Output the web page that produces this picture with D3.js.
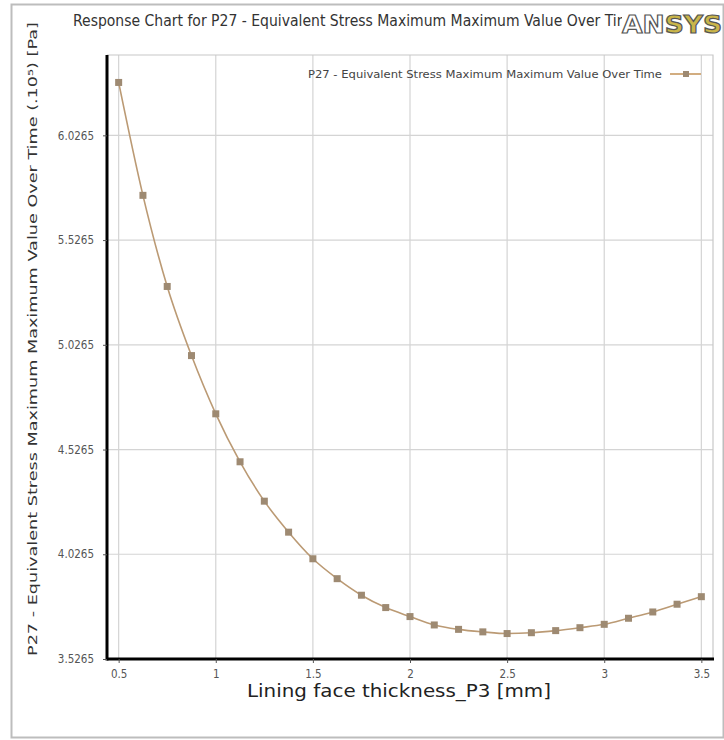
<!DOCTYPE html>
<html>
<head>
<meta charset="utf-8">
<script src="https://cdn.jsdelivr.net/npm/d3@7/dist/d3.min.js"></script>
<style>
  body { margin: 0; background: #fff; }
  svg { display: block; }
</style>
</head>
<body>
<script>
// thickness values (mm) and response (x10^5 Pa)
const thickness = [0.5, 0.625, 0.75, 0.875, 1.0, 1.125, 1.25, 1.375, 1.5, 1.625, 1.75, 1.875,
                   2.0, 2.125, 2.25, 2.375, 2.5, 2.625, 2.75, 2.875, 3.0, 3.125, 3.25, 3.375, 3.5]
const stress = [6.279, 5.740, 5.305, 4.975, 4.697, 4.468, 4.280, 4.132, 4.005, 3.910, 3.831, 3.772,
                3.729, 3.689, 3.668, 3.656, 3.648, 3.652, 3.662, 3.676, 3.692, 3.721, 3.751, 3.788, 3.824]
const xTicks = [0.5, 1, 1.5, 2, 2.5, 3, 3.5]
const yTicks = [3.5265, 4.0265, 4.5265, 5.0265, 5.5265, 6.0265]

const chartTitle = "Response Chart for P27 - Equivalent Stress Maximum Maximum Value Over Time"
const seriesName = "P27 - Equivalent Stress Maximum Maximum Value Over Time"
const yTitle = "P27 - Equivalent Stress Maximum Maximum Value Over Time  (.10\u2075)  [Pa]"
const xTitle = "Lining face thickness_P3 [mm]"

const width = 724, height = 740
const plot = {left: 107, right: 713, top: 55, bottom: 659}

const svg = d3.select("body").append("svg")
    .attr("width", width)
    .attr("height", height)

// outer panel frame
svg.append("rect")
    .attr("x", 11.5).attr("y", 4.5)
    .attr("width", 712).attr("height", 733)
    .attr("fill", "#fff")
    .attr("stroke", "#bdbdbd")
    .attr("stroke-width", 2)

const x = d3.scaleLinear().domain([0.44, 3.56]).range([plot.left, plot.right])
const y = d3.scaleLinear().domain([3.5265, 6.41]).range([plot.bottom, plot.top])

// grid
const grid = svg.append("g").attr("stroke", "#d4d4d4").attr("stroke-width", 1.2)
grid.selectAll("line.v").data(xTicks).join("line")
    .attr("x1", d => x(d)).attr("x2", d => x(d))
    .attr("y1", plot.top).attr("y2", plot.bottom)
grid.selectAll("line.h").data(yTicks).join("line")
    .attr("x1", plot.left).attr("x2", plot.right)
    .attr("y1", d => y(d)).attr("y2", d => y(d))

// top / right frame
svg.append("path")
    .attr("d", `M${plot.left},${plot.top}H${plot.right}V${plot.bottom}`)
    .attr("fill", "none").attr("stroke", "#c8c8c8").attr("stroke-width", 1.2)

// axes
const xAxis = svg.append("g")
    .attr("transform", `translate(0,${plot.bottom})`)
    .call(d3.axisBottom(x).tickValues(xTicks).tickSize(4).tickPadding(7).tickFormat(d3.format("~g")))
const yAxis = svg.append("g")
    .attr("transform", `translate(${plot.left},0)`)
    .call(d3.axisLeft(y).tickValues(yTicks).tickSize(4).tickPadding(9).tickFormat(d3.format(".4f")))

for (const ax of [xAxis, yAxis]) {
    ax.select(".domain").attr("stroke", "#000").attr("stroke-width", 3)
    ax.selectAll(".tick line").attr("stroke", "#555")
    ax.selectAll(".tick text")
        .attr("fill", "#555")
        .style("font-family", "'DejaVu Sans Condensed', 'DejaVu Sans', sans-serif")
        .style("font-size", "11.5px")
}
xAxis.select(".domain").attr("d", `M${plot.left},0H${plot.right + 1}`)
yAxis.select(".domain").attr("d", `M0,${plot.top}V${plot.bottom + 1.5}`)

// series
const pts = thickness.map((t, i) => [t, stress[i]])
svg.append("path")
    .datum(pts)
    .attr("fill", "none")
    .attr("stroke", "#bb9a74")
    .attr("stroke-width", 1.6)
    .attr("d", d3.line().x(d => x(d[0])).y(d => y(d[1])).curve(d3.curveMonotoneX))

svg.append("g").selectAll("rect").data(pts).join("rect")
    .attr("x", d => x(d[0]) - 3.5)
    .attr("y", d => y(d[1]) - 3.5)
    .attr("width", 7).attr("height", 7)
    .attr("fill", "#9e8a72")

// legend
svg.append("text")
    .attr("x", 662).attr("y", 78)
    .attr("text-anchor", "end")
    .attr("textLength", 354)
    .attr("lengthAdjust", "spacingAndGlyphs")
    .attr("fill", "#444")
    .style("font-family", "'DejaVu Sans Condensed', sans-serif")
    .style("font-size", "11px")
    .text(seriesName)
svg.append("line")
    .attr("x1", 670).attr("x2", 701).attr("y1", 74).attr("y2", 74)
    .attr("stroke", "#d2ad80").attr("stroke-width", 2)
svg.append("rect")
    .attr("x", 683).attr("y", 71).attr("width", 6).attr("height", 6)
    .attr("fill", "#9e8a72")

// title, cut off by the logo
svg.append("clipPath").attr("id", "titleClip")
    .append("rect").attr("x", 0).attr("y", 0).attr("width", 622).attr("height", 50)
svg.append("text")
    .attr("clip-path", "url(#titleClip)")
    .attr("x", 73).attr("y", 26)
    .attr("textLength", 566)
    .attr("lengthAdjust", "spacingAndGlyphs")
    .attr("fill", "#333")
    .style("font-family", "'DejaVu Sans Condensed', sans-serif")
    .style("font-size", "15px")
    .text(chartTitle)

// ANSYS logo
const logo = svg.append("text")
    .attr("x", 622).attr("y", 33)
    .style("font-family", "'DejaVu Sans', sans-serif")
    .style("font-size", "25px")
    .style("font-weight", "bold")
    .attr("stroke", "#555")
    .attr("stroke-width", 1.2)
    .attr("textLength", 100)
    .attr("lengthAdjust", "spacingAndGlyphs")
logo.append("tspan").attr("fill", "#fff").text("AN")
logo.append("tspan").attr("fill", "#c9b54a").text("SYS")

// axis titles
svg.append("text")
    .attr("transform", "translate(37,656) rotate(-90)")
    .attr("textLength", 634)
    .attr("lengthAdjust", "spacingAndGlyphs")
    .attr("fill", "#333")
    .style("font-family", "'DejaVu Sans', sans-serif")
    .style("font-size", "12px")
    .text(yTitle)

svg.append("text")
    .attr("x", 399).attr("y", 697)
    .attr("text-anchor", "middle")
    .attr("textLength", 304)
    .attr("lengthAdjust", "spacingAndGlyphs")
    .attr("fill", "#222")
    .style("font-family", "'DejaVu Sans', sans-serif")
    .style("font-size", "18px")
    .text(xTitle)
</script>
</body>
</html>
